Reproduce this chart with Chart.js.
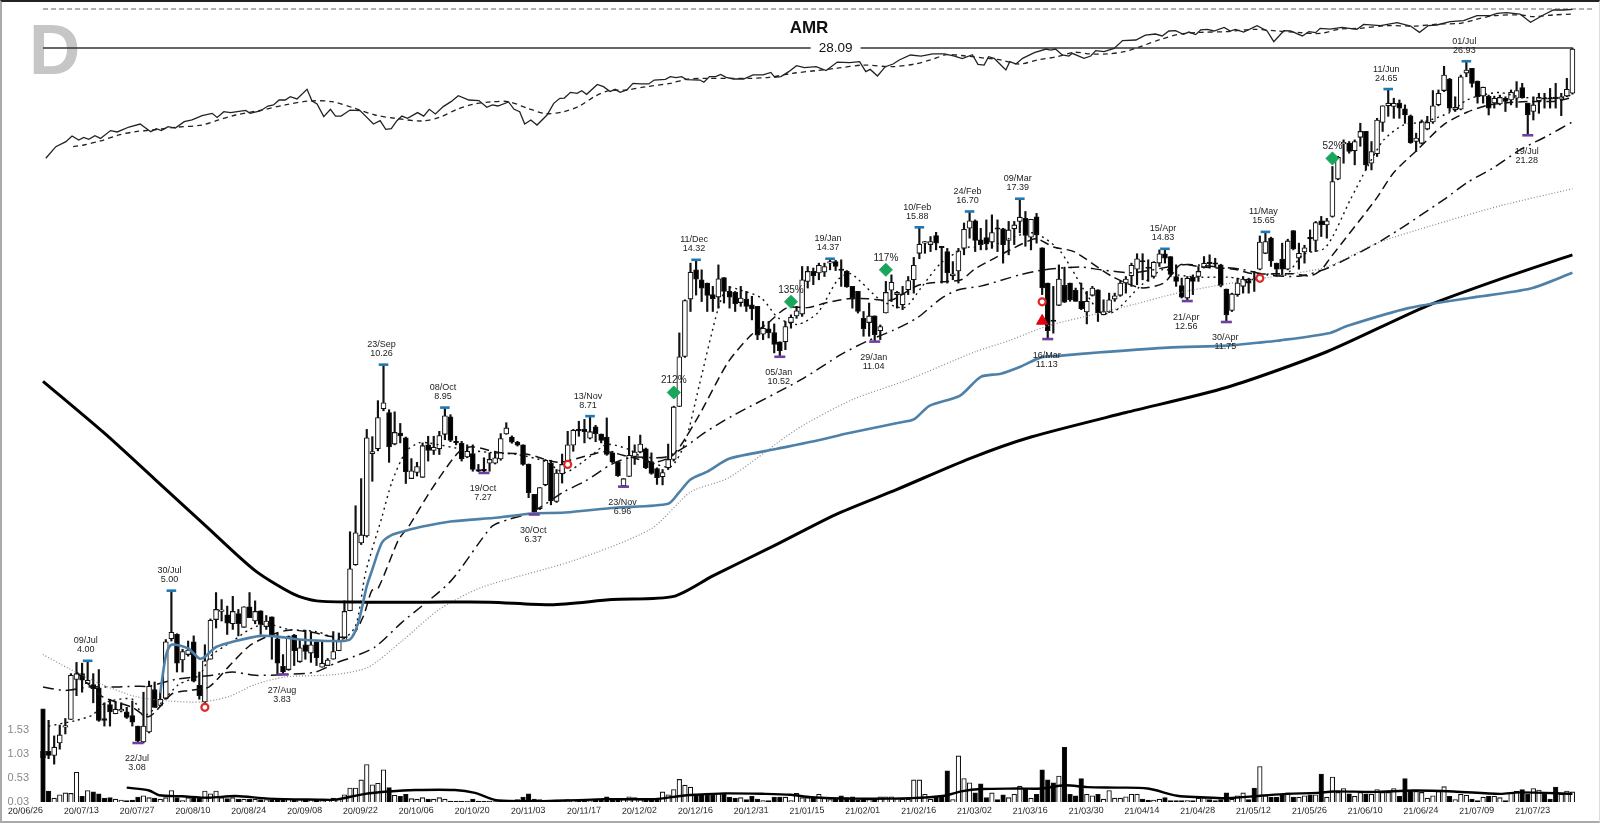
<!DOCTYPE html>
<html lang="en">
<head>
<meta charset="UTF-8">
<title>AMR</title>
<script src="https://cdn.jsdelivr.net/npm/chart.js"></script>
<style>
  html, body { margin: 0; padding: 0; background: #fff; overflow: hidden; }
  #wrap { position: relative; width: 1600px; height: 823px; }
  canvas { display: block; }
  #frame { position: absolute; inset: 0; box-sizing: border-box; pointer-events: none;
           border-top: 2px solid #222; border-left: 2px solid #aaa; border-bottom: 2px solid #aaa; border-right: 1px solid #ddd; }
</style>
</head>
<body>
<div id="wrap">
  <canvas id="chart" width="1600" height="823"></canvas>
  <div id="frame"></div>
</div>

<script>
const tickDates = ["20/06/26","20/07/13","20/07/27","20/08/10","20/08/24","20/09/08","20/09/22","20/10/06","20/10/20","20/11/03","20/11/17","20/12/02","20/12/16","20/12/31","21/01/15","21/02/01","21/02/16","21/03/02","21/03/16","21/03/30","21/04/14","21/04/28","21/05/12","21/05/26","21/06/10","21/06/24","21/07/09","21/07/23"];
const volTicks = [0.03, 0.53, 1.03, 1.53];
const lastPrice = 28.09;

const opens = [
  3.00,3.00,2.96,3.08,3.24,3.32,3.77,3.84,3.72,3.71,
  3.67,3.33,3.48,3.38,3.41,3.40,3.36,3.25,3.09,3.19,
  3.65,3.47,3.55,4.29,4.35,4.01,4.08,4.25,3.70,3.51,
  4.02,4.56,4.68,4.63,4.50,4.65,4.45,4.75,4.54,4.69,
  4.46,4.60,4.29,3.93,3.89,4.34,3.99,4.21,4.10,4.25,
  3.92,3.94,4.02,4.13,4.26,4.69,5.43,5.82,5.95,7.73,
  7.85,8.92,8.81,7.97,8.25,8.13,7.14,7.28,7.17,7.95,
  7.81,7.85,8.22,8.69,8.03,7.99,7.65,7.73,7.35,7.33,
  7.50,7.50,7.60,8.23,8.15,8.02,7.95,7.48,6.79,6.49,
  7.00,7.50,6.64,7.25,7.47,7.94,8.33,8.35,8.12,8.42,
  8.23,8.15,7.75,7.53,6.98,7.19,7.66,7.77,7.85,7.53,
  7.37,7.18,7.39,7.59,8.98,10.53,12.64,13.87,13.44,13.30,
  12.82,12.72,13.53,12.95,12.91,12.50,12.64,12.41,12.35,11.30,
  11.50,11.36,11.03,11.03,11.73,11.98,12.05,13.37,13.80,13.73,
  13.77,14.17,14.24,13.90,13.80,13.16,12.95,11.89,11.73,11.98,
  11.43,12.09,13.00,12.82,12.41,13.02,13.44,14.62,15.10,15.03,
  15.47,14.92,14.70,13.61,13.82,14.85,15.83,16.21,15.26,15.37,
  15.15,15.82,15.80,15.23,15.80,16.18,16.34,15.39,16.42,14.88,
  13.30,11.81,12.39,13.20,13.30,13.00,12.55,12.13,12.79,13.02,
  12.02,12.13,12.64,12.79,13.30,13.61,13.90,14.26,13.97,13.58,
  14.17,14.60,14.47,13.58,13.19,12.68,13.55,13.58,13.99,14.19,
  14.16,14.09,13.05,12.19,12.82,13.16,13.47,13.46,13.90,14.62,
  15.34,14.17,14.35,13.90,15.71,14.40,14.68,15.35,15.23,16.21,
  16.00,16.44,18.51,20.70,20.75,20.25,21.14,21.54,19.47,20.07,
  22.16,23.37,23.32,23.57,23.14,22.63,20.86,20.74,21.70,22.20,
  23.44,24.53,25.45,23.07,23.12,25.93,26.33,25.29,24.10,24.10,
  23.57,23.51,23.94,23.81,23.94,24.76,23.57,22.95,23.74,23.90,
  23.91,23.97,23.86,24.10,24.32
];
const highs = [
  3.00,3.31,3.15,3.26,3.33,3.84,3.98,3.97,4.00,3.84,
  3.89,3.50,3.54,3.51,3.50,3.45,3.52,3.25,3.62,3.75,
  3.74,3.62,4.28,5.00,4.36,4.15,4.26,4.33,3.86,4.21,
  4.57,4.97,4.86,4.76,4.91,4.71,4.75,4.97,4.84,4.69,
  4.62,4.60,4.37,4.08,4.33,4.35,4.28,4.41,4.39,4.25,
  4.26,4.03,4.39,4.37,4.84,6.03,6.55,7.14,8.35,8.16,
  9.15,10.26,8.89,8.83,8.51,8.15,7.61,7.52,8.00,8.17,
  8.17,8.30,8.95,8.75,8.17,8.04,7.95,7.95,7.47,7.63,
  7.75,7.79,8.24,8.53,8.18,8.04,7.95,7.48,6.79,6.94,
  7.59,7.57,7.35,7.72,8.30,8.35,8.57,8.62,8.71,8.46,
  8.23,8.66,7.79,7.53,7.14,8.17,7.95,8.20,7.87,7.75,
  7.39,7.35,7.97,8.99,11.35,12.61,14.17,14.32,13.87,13.30,
  13.16,14.09,13.53,13.16,12.95,13.16,12.95,12.75,12.35,11.77,
  11.77,11.68,11.03,11.77,12.02,12.35,14.02,14.02,13.95,14.17,
  14.17,14.37,14.30,14.32,13.84,13.16,12.95,12.15,12.48,11.98,
  11.64,13.37,13.65,12.95,13.16,13.58,14.43,15.88,15.18,15.42,
  15.63,14.95,14.85,14.24,14.85,16.10,16.70,16.26,15.83,16.26,
  16.52,16.26,15.83,16.18,16.18,17.39,16.70,16.29,16.60,14.88,
  13.30,13.16,14.09,13.99,13.30,13.09,13.30,12.95,13.16,13.02,
  12.61,12.88,12.88,13.37,13.58,14.17,14.60,14.60,14.32,14.24,
  14.78,14.83,14.47,14.09,13.51,13.58,13.65,14.02,14.47,14.55,
  14.39,14.12,13.05,12.88,13.51,13.58,13.51,13.80,15.45,15.65,
  15.39,14.17,15.10,15.29,15.71,15.10,15.00,15.75,16.18,16.44,
  16.34,19.27,19.90,20.97,20.86,20.97,22.11,21.54,20.86,22.46,
  23.37,24.65,23.94,23.81,23.44,22.70,21.42,22.34,22.60,24.53,
  24.58,26.50,25.50,24.05,25.77,26.93,26.33,25.29,24.80,24.18,
  24.10,24.18,24.05,24.58,25.24,25.10,23.57,24.05,24.32,24.32,
  24.70,25.10,24.32,25.50,28.09
];
const lows = [
  2.94,2.93,2.88,3.02,3.17,3.32,3.58,3.62,3.72,3.50,
  3.30,3.25,3.25,3.38,3.40,3.33,3.25,3.08,3.08,3.18,
  3.45,3.46,3.54,4.26,3.86,3.86,4.06,3.74,3.54,3.47,
  4.02,4.44,4.54,4.35,4.42,4.33,4.45,4.59,4.50,4.35,
  4.42,4.02,3.84,3.83,3.88,3.94,3.98,4.02,3.98,3.94,
  3.92,3.94,4.02,4.13,4.25,4.69,5.42,5.79,5.93,7.08,
  7.80,8.86,7.52,7.95,8.00,7.03,7.14,7.20,7.17,7.55,
  7.71,7.71,8.08,8.03,7.95,7.55,7.63,7.31,7.30,7.27,
  7.31,7.48,7.57,8.22,7.99,7.92,7.45,6.72,6.37,6.47,
  6.98,6.57,6.62,7.04,7.45,7.79,8.17,8.00,8.10,8.03,
  8.00,7.69,7.51,7.19,6.96,7.19,7.47,7.75,7.37,7.24,
  7.01,7.00,7.35,7.55,8.98,10.50,12.15,12.80,12.54,12.15,
  12.15,12.28,12.48,12.28,12.15,12.35,12.15,11.83,11.11,11.11,
  11.17,10.65,10.52,10.76,11.52,11.89,11.96,13.09,13.23,13.44,
  13.58,13.87,13.84,13.16,13.12,12.28,12.09,11.23,11.23,11.04,
  11.11,12.09,12.54,12.28,12.22,12.82,12.88,14.37,14.62,14.70,
  14.78,13.30,13.30,13.44,13.30,14.55,15.34,14.70,14.78,14.78,
  14.85,14.70,14.17,14.55,15.03,15.60,14.95,14.78,15.10,12.82,
  11.13,11.34,12.38,12.50,12.55,12.55,12.22,11.68,12.76,11.77,
  12.02,12.11,12.55,12.75,12.88,13.16,13.23,13.44,13.37,13.51,
  14.02,14.17,13.58,13.16,12.68,12.56,12.82,13.37,13.95,13.95,
  13.99,13.14,11.75,12.15,12.75,12.88,12.88,12.95,13.87,14.60,
  14.02,13.58,13.65,13.87,14.78,13.90,14.17,14.70,14.70,15.42,
  15.34,16.40,18.47,19.47,20.10,19.37,20.55,19.06,19.06,19.89,
  21.54,22.60,22.46,22.46,22.10,20.74,20.21,20.70,21.65,22.10,
  23.37,24.45,22.95,22.95,23.07,25.63,24.80,23.57,23.57,22.70,
  23.20,23.44,22.95,23.44,23.25,23.94,21.28,22.34,22.82,23.20,
  23.20,23.20,22.65,24.05,24.25
];
const closes = [
  2.94,2.96,3.04,3.16,3.25,3.82,3.84,3.76,3.76,3.66,
  3.31,3.31,3.40,3.43,3.43,3.34,3.29,3.10,3.25,3.69,
  3.45,3.54,4.25,4.38,3.97,4.12,4.14,3.75,3.58,4.00,
  4.55,4.71,4.70,4.51,4.68,4.50,4.75,4.59,4.68,4.49,
  4.54,4.33,3.97,3.86,4.32,4.13,4.17,4.12,4.21,4.04,
  3.97,4.01,4.12,4.27,4.68,5.36,6.01,5.97,8.13,7.78,
  8.67,9.09,7.90,8.27,8.18,7.30,7.32,7.42,7.93,7.81,
  7.89,8.19,8.72,8.06,8.00,7.60,7.79,7.35,7.31,7.32,
  7.59,7.63,8.11,8.39,8.02,7.94,7.47,6.83,6.42,6.94,
  7.57,6.65,7.27,7.47,7.95,8.33,8.31,8.29,8.29,8.24,
  8.06,7.71,7.53,7.21,7.14,7.69,7.77,7.97,7.39,7.26,
  7.16,7.28,7.59,8.97,10.52,12.58,13.77,13.47,13.09,12.79,
  12.65,13.48,12.95,12.72,12.45,12.68,12.35,12.25,11.27,11.52,
  11.36,10.94,10.73,11.58,11.93,12.18,13.44,13.80,13.61,14.07,
  14.02,14.22,14.02,13.84,13.14,12.68,12.15,11.50,11.98,11.29,
  11.58,12.91,13.33,12.91,12.85,13.41,14.07,15.05,15.14,15.18,
  15.10,14.88,13.73,13.70,14.74,15.78,16.21,15.23,15.03,15.06,
  15.62,15.78,15.03,15.75,16.00,16.40,15.47,16.29,15.50,13.10,
  11.43,11.77,13.47,12.52,12.61,12.55,12.26,12.55,13.09,12.09,
  12.15,12.61,12.77,13.30,13.47,14.07,14.37,14.22,13.93,14.21,
  14.60,14.40,13.67,13.37,12.72,13.51,13.37,13.80,14.17,14.15,
  14.12,13.20,12.02,12.85,13.30,13.47,13.30,13.42,15.15,15.18,
  14.27,13.90,13.90,15.21,14.82,14.62,14.88,15.31,16.12,16.00,
  16.21,18.37,19.84,20.80,20.21,20.86,21.54,19.37,20.21,22.34,
  23.37,23.57,23.57,23.20,22.70,20.78,21.09,22.22,22.17,23.37,
  24.32,25.77,23.20,23.25,25.63,26.19,25.10,24.05,24.80,23.20,
  23.94,24.00,23.69,24.40,24.53,23.99,22.70,23.44,24.00,23.86,
  23.86,23.91,24.05,24.63,28.00
];
const volumes = [
  1.97,.26,.11,.18,.22,.21,.65,.15,.27,.24,
  .20,.11,.12,.09,.07,.06,.07,.13,.16,.12,
  .11,.09,.12,.27,.12,.06,.12,.12,.12,.26,
  .20,.26,.12,.10,.12,.09,.09,.09,.09,.08,
  .08,.08,.08,.08,.09,.08,.08,.08,.08,.08,
  .06,.08,.11,.09,.18,.32,.32,.49,.81,.39,
  .42,.70,.33,.17,.15,.19,.10,.09,.12,.09,
  .09,.12,.09,.05,.05,.05,.05,.09,.05,.05,
  .05,.04,.06,.06,.06,.08,.13,.20,.09,.08,
  .06,.05,.05,.06,.08,.08,.08,.05,.06,.08,
  .08,.14,.08,.08,.08,.14,.12,.08,.08,.08,
  .09,.24,.18,.29,.50,.38,.34,.18,.18,.18,
  .18,.21,.19,.13,.11,.12,.08,.15,.09,.06,
  .06,.13,.13,.13,.06,.21,.12,.12,.11,.19,
  .11,.08,.11,.16,.12,.14,.07,.11,.08,.09,
  .14,.14,.14,.10,.09,.09,.49,.49,.19,.09,
  .14,.14,.68,.08,.99,.52,.43,.22,.41,.12,
  .22,.08,.18,.12,.19,.36,.30,.11,.19,.70,
  .49,.43,.57,1.17,.19,.16,.52,.19,.16,.19,
  .09,.27,.11,.11,.14,.19,.19,.09,.07,.07,
  .09,.12,.06,.06,.06,.06,.06,.11,.12,.08,
  .06,.08,.22,.09,.16,.22,.08,.32,.77,.16,
  .13,.13,.18,.22,.13,.13,.16,.18,.18,.61,
  .13,.55,.23,.31,.20,.15,.23,.20,.19,.29,
  .23,.23,.31,.15,.52,.27,.25,.23,.11,.16,
  .25,.35,.15,.08,.19,.17,.09,.06,.13,.15,
  .15,.12,.06,.22,.25,.29,.19,.31,.28,.19,
  .09,.34,.19,.26,.24
];

// moving averages, read at knots along the line (bar number, price)
const ma10Idx = [1,6,9,10,12,16,18,21,24.3,28,30,34,37,40,44,49,53.5,56,57.8,60.7,62.5,65,67.3,69,75.6,80,85,90,93.5,98,101,105,108.5,112.5,115,117.6,120.9,122.6,125,128.7,131.7,135.2,138.8,142.4,144.7,150,154.3,157.3,160.9,165.6,169,172.8,177.5,181.8,184.1,186.5,189.5,192,196.7,200.8,203.3,207.5,212.5,216,219.7,222.7,225.7,229.8,234.2,237.2,240.2,243.8,247.4,252.1,255.1,258,261,265.2,272,274];
const ma10 = [3.25,3.31,3.37,3.45,3.52,3.54,3.36,3.49,3.71,3.82,4.06,4.26,4.42,4.50,4.42,4.39,4.28,4.47,5.30,6.31,7.06,7.78,8.00,8.00,7.83,7.76,7.71,7.54,7.28,7.66,7.96,7.83,7.54,7.42,8.00,9.63,12.22,13.10,13.00,12.68,11.91,11.66,12.10,13.44,13.70,12.61,12.30,13.10,14.18,14.90,14.85,15.30,15.60,14.85,14.00,13.00,12.10,12.15,13.20,13.90,13.65,13.55,13.55,13.44,13.70,13.65,14.55,14.90,17.33,19.20,20.97,22.00,22.20,22.90,23.81,24.20,24.38,24.00,24.00,24.20];

const ma21Idx = [6,10.6,16,19,23.1,26.1,29.7,33.3,36.9,40.4,44,48.2,51.8,55.3,57.4,58.9,60.1,63.7,65.5,69.6,74.4,76.8,81.6,87,92.3,98.3,101,105.4,109.6,113,117.4,122.7,126.8,129.8,133.3,137,140.5,144.2,147.8,152,156.7,161,164.5,166.9,170.5,173.4,177,178.2,181.2,184.7,191.4,196.7,200.8,203.8,207.3,213.3,216.9,224,227,229,230.6,238.7,242,246.2,250.9,255.1,258.7,262.3,266.4,270.6,274];
const ma21 = [3.86,3.57,3.45,3.35,3.60,3.64,3.68,3.93,4.19,4.33,4.41,4.38,4.32,4.33,4.61,5.00,5.05,5.88,6.13,6.90,7.76,7.90,7.76,7.71,7.52,7.71,7.78,7.64,7.52,7.71,8.70,10.33,11.26,11.70,12.30,12.30,12.50,12.65,12.65,12.60,13.20,13.35,13.44,13.90,14.40,14.80,15.26,15.30,14.90,14.70,13.60,13.10,13.30,14.10,14.00,13.90,13.70,13.70,13.60,13.87,14.40,17.33,18.90,20.31,22.00,22.90,23.40,23.60,23.70,23.70,24.00];

const ma50Idx = [0,4,8.2,12.4,16.6,19,23.7,30.3,33.9,38,43.4,48.8,52.4,55.9,59.5,64.3,73,80.4,83.4,87.5,93.5,97.1,101.8,105.4,111.4,115,118.6,123.3,135.8,143,147.8,152.5,156.7,161,164,168,172.8,175,179.3,185.9,189.5,195.5,204.4,210.4,214.6,219.4,225.3,230.6,240,250.9,255.1,259.9,264.6,269.3,274];
const ma50 = [3.68,3.64,3.68,3.68,3.69,3.69,3.77,3.82,3.86,3.82,3.83,3.86,3.97,4.06,4.18,4.52,5.15,6.13,6.27,6.41,6.86,7.08,7.47,7.64,7.64,7.90,8.27,8.70,9.78,10.60,11.07,11.46,11.92,12.68,13.02,13.17,13.50,13.65,13.87,14.00,13.87,13.75,14.10,14.00,13.90,13.65,13.60,14.00,15.26,17.33,18.30,19.20,20.31,21.20,22.20];

const ma100Idx = [0,4.7,10.6,16.6,22.5,28.5,33.3,38,43.4,52.4,58.3,64.3,71,78.5,95,109,116,123,135,145,155,167,173,178,180.5,189.5,195.5,203,210.4,219.4,230,239,248,261,274];
const ma100 = [4.08,3.90,3.71,3.57,3.52,3.51,3.57,3.71,3.80,3.83,3.92,4.26,4.71,5.05,5.50,6.09,6.84,7.17,8.35,9.18,9.78,10.69,11.07,11.46,11.64,12.10,12.43,12.87,13.20,13.54,14.00,15.10,15.90,17.00,17.95];

const ma150Idx = [21,22,23,26,28,29,31,34.5,39,42,46,52,55,56.5,58,59,60.7,62.5,65,68,73,81.6,87.5,93.5,102.5,112,114,116,119,123,131.5,138.7,144.2,153.3,156,158.8,164.3,168,171.6,175.2,178.8,182.4,189.5,201.5,212.2,217.6,221.1,230.6,233.6,244.6,255.5,266.5,274];
const ma150 = [3.61,4.06,4.21,4.16,4.03,4.05,4.18,4.26,4.33,4.32,4.28,4.26,4.28,4.52,5.07,5.35,5.82,5.97,6.05,6.13,6.23,6.31,6.39,6.41,6.51,6.59,6.84,7.12,7.30,7.61,7.85,8.06,8.25,8.53,8.62,9.00,9.30,9.87,9.97,10.20,10.50,10.56,10.67,10.83,10.90,11.00,11.07,11.35,11.60,12.28,12.68,13.07,13.74];

const ma200Idx = [0,11,20,29,38,45,49,58,69,80,91,102,113,120,131,142,153,166,177,194,212,230,248,263,274];
const ma200 = [9.73,8.25,7.13,6.16,5.33,4.94,4.84,4.82,4.82,4.82,4.78,4.86,4.91,5.24,5.77,6.37,6.90,7.61,8.15,8.81,9.54,10.69,12.37,13.63,14.55];

// relative strength line and its average, own hidden scale
const rsIdx = [0.5,2.3,4.1,5.2,6.4,7.3,8.2,9.3,10.3,12.1,13.3,15.4,17.4,19.3,20.3,21.2,22.4,23.7,25.3,26.7,28.5,30.3,31.2,32.4,33.6,36.3,37.1,38.9,40.3,41.3,42.3,43.4,44.3,45.5,47.3,48.2,49.1,50.3,51.5,52.4,53.4,55,56.8,59.2,60.4,61.4,62.4,63.4,64.3,65.3,67.1,68.2,69.2,70.3,71.7,73.1,74.4,76.3,78.1,79.5,80.5,81.5,83.4,84.4,85.4,86.3,87.4,88.5,90.3,91.5,92.6,93.4,94.5,95.7,96.5,97.4,99.3,100.4,101.6,102.5,103.4,104.6,105.7,107.1,108.5,109.5,111.5,112.4,113.4,114.4,115.3,117.7,118.4,119.4,120.5,121.4,122.4,123.7,125.5,127.2,129,130.4,131.1,132.2,133.6,135,136.4,138.5,140.3,142.3,144.5,146.3,147.4,148.2,149.5,150.9,152.3,153.4,155.4,157.3,159.4,161.5,163.3,164.7,166.5,167.5,168.6,169.4,170.4,171.6,172.5,173.2,174.3,175.5,177.6,179.7,180.5,181.4,182.6,183.8,184.4,186.5,187.7,188.6,190.1,191.9,193.4,195.8,197.5,199.3,200.5,201.7,202.9,204.3,205.3,206.5,207.4,208.6,209.8,211.6,212.7,213.6,215.1,217.5,219.3,220.5,222.3,223.5,225.6,226.8,228,228.8,230.6,232.7,235.4,236.6,239.6,242.6,245,246.6,248.2,249.7,252.1,254.5,256.9,259.3,260.5,262.2,264.6,266.5,268.8,270.6,272.4,274];
const rsLine = [1.2,8.9,12.2,16,13.3,15.1,13.8,16.2,14.4,19.6,18.7,22,24,18.9,20.9,19.6,22.2,21.3,25.6,26.7,29.6,31.1,28.4,32.2,31.6,33.1,31.1,32.7,36,36.7,40,40,42.2,40.7,47.1,39.3,37.3,28.9,33.8,29.3,29.3,33.3,32.9,24,26.2,20.4,20.9,26.2,29.3,27.8,31.6,29.3,33.8,30.7,35.6,38.9,42.9,40,39.6,35.1,36.7,36,38.7,33.8,32.2,24,26.7,23.3,30,37.8,41.1,41.3,45.1,44.4,46.2,43.8,50.4,48.9,45.6,47.1,45.1,46.7,51.1,50.7,50.7,53.3,53.8,55.6,54.9,55.6,53.6,53.3,51.8,55.6,55.6,57.1,55.1,54,54,56.7,56.7,58.4,55.1,55.6,58.9,62.9,61.6,62.2,59.6,65.3,64.9,65.6,58.9,60.4,56,62.2,64,66.7,70,69.3,70.7,70.7,69.3,67.6,70.2,63.8,63.3,68.9,67.8,63.3,60,65.6,64,67.8,71.6,74,73.3,74,70,69.3,71.1,67.8,69.3,72.9,72.2,74.4,79.6,80,83.3,84,82.7,86,86.2,83.8,85.3,83.6,86.7,87.1,86,88.4,86,87.1,85.3,89.6,86,78.9,86.2,86,82.7,85.6,84.9,87.8,87.3,88.4,87.1,90.4,89.6,91.6,89.3,85.1,89.6,90,92.2,92.9,96.2,96.2,97.8,98.2,97.3,91.8,96.7,100,100,100.4];
const rsAvgIdx = [5.4,7.3,10.3,13.6,16.6,19.6,23.7,28.5,31.5,34.5,39.2,43.4,47.6,51.8,55.9,59.5,63.1,67.8,71,74.2,77,80.2,83.4,86.9,90.1,93.3,96.1,99,101.4,104.6,108.1,112.4,115.2,118.7,123,126.5,130.1,134.3,138.5,142.1,147,152,156.2,159,161.9,165.4,169,171.6,174.9,178.2,181.7,184.7,187.7,190.7,193.7,196.6,200.2,203.8,207.4,212.1,216.9,221.1,225.3,228.8,232.4,236,240.8,245.6,250.3,253.9,256.3,259.9,264.6,267,270.6,274];
const rsAvg = [8.9,10,12.7,16.7,18.9,20,21.8,23.3,26.7,30,33.3,36.7,39.3,38.9,34.4,30,27.8,26,28.4,33.8,37.1,38.7,38.9,34.4,30.9,32.2,36,42.7,46.2,46.7,48.9,51.1,53.8,54.4,54.4,54.4,55.1,57.8,59.6,61.1,63.3,62.2,64,66.7,70.2,69.3,67.8,66.7,64,66.7,68.9,71.8,70.7,70.7,72.2,75.6,80.4,84,85.1,85.6,87.1,86,84.9,84.4,87.3,87.8,89.6,89.3,90.7,91.1,93.3,96.2,96.7,95.6,96.7,97.3];
const rsTopLevel = 100.67;

const volAvgIdx = [15,19,20.8,24.9,29.7,34.5,40.4,49.4,52.4,57.7,61.9,66.7,73.8,77.4,81.6,93.5,100.7,109.6,113.8,116.8,122.1,129.3,134,137.6,144.8,155.5,161.5,164.5,168,174.6,178.8,183,187.1,192.5,197.9,203.2,207.4,212.2,218.1,222.9,228.3,231.2,238.4,245.6,252.7,261,264.6,274];
const volAvg = [.33,.27,.17,.15,.12,.155,.10,.08,.08,.20,.25,.28,.28,.22,.06,.06,.09,.09,.15,.18,.21,.20,.18,.13,.10,.11,.16,.25,.30,.31,.31,.38,.34,.33,.31,.16,.13,.11,.16,.20,.22,.25,.24,.27,.25,.20,.23,.20];

// labelled swing highs and lows
const highIdx = [8,23,61,72,98,117,141,157,166,175,201,219,241,255];
const highDates = ["09/Jul","30/Jul","23/Sep","08/Oct","13/Nov","11/Dec","19/Jan","10/Feb","24/Feb","09/Mar","15/Apr","11/May","11/Jun","01/Jul"];
const highVals = [4.00,5.00,10.26,8.95,8.71,14.32,14.37,15.88,16.70,17.39,14.83,15.65,24.65,26.93];
const lowIdx = [17,43,79,88,104,132,149,180,205,212,266];
const lowDates = ["22/Jul","27/Aug","19/Oct","30/Oct","23/Nov","05/Jan","29/Jan","16/Mar","21/Apr","30/Apr","19/Jul"];
const lowVals = [3.08,3.83,7.27,6.37,6.96,10.52,11.04,11.13,12.56,11.75,21.28];

const gainIdx = [113,134,151,231];
const gainVals = [9.39,12.53,13.87,19.77];
const gainLabels = ["212%","135%","117%","52%"];
const ringIdx = [29,94,179,218];
const ringVals = [3.45,7.47,12.53,13.50];
const triIdx = [179];
const triVals = [11.79];

const pairs = (xs, ys) => xs.map((x, i) => ({ x: x, y: ys[i] }));
const isUp = opens.map((o, i) => closes[i] >= o);

function maLine(label, xs, ys, color, width, dash, order) {
    return {
        type: "line", label: label, data: pairs(xs, ys), yAxisID: "y", xAxisID: "x",
        borderColor: color, borderWidth: width, borderDash: dash, pointRadius: 0,
        tension: 0.25, fill: false, order: order
    };
}
function markers(label, xs, ys, style, radius, fill, stroke, borderW, rotation) {
    return {
        type: "line", label: label, data: pairs(xs, ys), yAxisID: "y", xAxisID: "x", showLine: false,
        pointStyle: style, pointRadius: radius, pointBackgroundColor: fill, pointBorderColor: stroke,
        pointBorderWidth: borderW, pointRotation: rotation || 0, order: 1
    };
}

// text that sits on the marks: swing labels, gain labels, title, last price, period letter
const chartText = {
    id: "chartText",
    beforeDatasetsDraw(chart) {
        const c = chart.ctx;
        c.save();
        c.fillStyle = "#c6c6c6";
        c.font = "bold 71px 'Liberation Sans'";
        c.textAlign = "left";
        c.textBaseline = "alphabetic";
        c.fillText("D", 29, 74);
        c.restore();
    },
    afterDatasetsDraw(chart) {
        const c = chart.ctx, xs = chart.scales.x, ys = chart.scales.y;
        c.save();
        c.textAlign = "center";
        c.textBaseline = "middle";
        c.fillStyle = "#222";
        c.font = "9px 'Liberation Sans'";
        highIdx.forEach((idx, k) => {
            const px = xs.getPixelForValue(idx), py = ys.getPixelForValue(highVals[k]);
            c.fillText(highDates[k], px - 2, py - 20);
            c.fillText(highVals[k].toFixed(2), px - 2, py - 11);
        });
        lowIdx.forEach((idx, k) => {
            const px = xs.getPixelForValue(idx), py = ys.getPixelForValue(lowVals[k]);
            c.fillText(lowDates[k], px - 1, py + 16);
            c.fillText(lowVals[k].toFixed(2), px - 1, py + 25);
        });
        c.font = "10px 'Liberation Sans'";
        gainIdx.forEach((idx, k) => {
            c.fillText(gainLabels[k], xs.getPixelForValue(idx), ys.getPixelForValue(gainVals[k]) - 12);
        });

        const lx = xs.getPixelForValue(142), ly = ys.getPixelForValue(lastPrice);
        c.fillStyle = "#fff";
        c.fillRect(lx - 25, ly - 8, 50, 16);
        c.fillStyle = "#111";
        c.font = "13.5px 'Liberation Sans'";
        c.fillText(lastPrice.toFixed(2), lx, ly);

        c.font = "bold 17px 'Liberation Sans'";
        c.fillText("AMR", 809, 28);
        c.restore();
    }
};

Chart.defaults.font.family = "'Liberation Sans', Arial, sans-serif";

new Chart(document.getElementById("chart"), {
    type: "bar",
    data: {
        datasets: [
            {
                label: "Range", data: pairs(opens.map((_, i) => i), lows.map((l, i) => [l, highs[i]])),
                yAxisID: "y", xAxisID: "x", grouped: false, barThickness: 1.5,
                backgroundColor: "#111", borderWidth: 0, minBarLength: 1, order: 10
            },
            {
                label: "Body", data: pairs(opens.map((_, i) => i), opens.map((o, i) => [o, closes[i]])),
                yAxisID: "y", xAxisID: "x", grouped: false, barThickness: 5,
                backgroundColor: isUp.map(u => u ? "#fff" : "#000"), borderColor: "#111",
                borderWidth: 1.1, borderSkipped: false, minBarLength: 1.5, order: 9
            },
            {
                label: "Volume", data: pairs(volumes.map((_, i) => i), volumes),
                yAxisID: "yVol", xAxisID: "x", grouped: false, barThickness: 4.6,
                backgroundColor: isUp.map(u => u ? "#fff" : "#000"), borderColor: "#111",
                borderWidth: 1.1, borderSkipped: "bottom", order: 8
            },
            {
                type: "line", label: "Volume average", data: pairs(volAvgIdx, volAvg), yAxisID: "yVol", xAxisID: "x",
                borderColor: "#000", borderWidth: 2.4, pointRadius: 0, tension: 0.3, order: 5
            },
            {
                type: "line", label: "RS", data: pairs(rsIdx, rsLine), yAxisID: "yRs", xAxisID: "x",
                borderColor: "#222", borderWidth: 1.3, pointRadius: 0, tension: 0, order: 6
            },
            {
                type: "line", label: "RS average", data: pairs(rsAvgIdx, rsAvg), yAxisID: "yRs", xAxisID: "x",
                borderColor: "#222", borderWidth: 1.3, borderDash: [5, 4], pointRadius: 0, tension: 0.3, order: 6
            },
            {
                type: "line", label: "RS top", data: pairs([0, 278], [rsTopLevel, rsTopLevel]), yAxisID: "yRs", xAxisID: "x",
                borderColor: "#666", borderWidth: 1.2, borderDash: [5, 3], pointRadius: 0, order: 6
            },
            {
                type: "line", label: "Last", data: pairs([0, 274], [lastPrice, lastPrice]), yAxisID: "y", xAxisID: "x",
                borderColor: "#333", borderWidth: 1.6, pointRadius: 0, order: 7
            },
            maLine("MA10", ma10Idx, ma10, "#111", 1.4, [2, 4], 4),
            maLine("MA21", ma21Idx, ma21, "#111", 1.5, [9, 5], 4),
            maLine("MA50", ma50Idx, ma50, "#111", 1.5, [11, 5, 2, 5], 4),
            maLine("MA100", ma100Idx, ma100, "#888", 1.2, [1, 2], 4),
            maLine("MA150", ma150Idx, ma150, "#4f81a8", 2.6, [], 3),
            maLine("MA200", ma200Idx, ma200, "#000", 3, [], 3),
            markers("Highs", highIdx, highVals, "line", 4.8, "#1f77b4", "#1f77b4", 2.6),
            markers("Lows", lowIdx, lowVals, "line", 5.5, "#6f3fa0", "#6f3fa0", 2.6),
            markers("Gains", gainIdx, gainVals, "rectRot", 6.5, "#19a55a", "#19a55a", 1),
            markers("Rings", ringIdx, ringVals, "circle", 3.5, "#fff", "#e02828", 2.2),
            markers("Triangle", triIdx, triVals, "triangle", 6.5, "#e3000f", "#e3000f", 1)
        ]
    },
    options: {
        responsive: false,
        animation: false,
        layout: { padding: 0, autoPadding: false },
        plugins: { legend: { display: false }, title: { display: false }, tooltip: { enabled: false } },
        scales: {
            x: {
                type: "linear", offset: false, bounds: "data",
                min: -2.33, max: 278.94,
                grid: { display: false, drawTicks: false }, border: { display: false },
                afterBuildTicks: s => { s.ticks = tickDates.map((d, k) => ({ value: k * 10 })); },
                afterFit: s => { s.height = 21; s.paddingLeft = 0; s.paddingRight = 0; },
                ticks: {
                    autoSkip: false, padding: 3,
                    minRotation: 2, maxRotation: 2,
                    color: "#222", font: { size: 9 },
                    callback: v => tickDates[v / 10]
                }
            },
            y: { type: "logarithmic", display: false, min: 2.553, max: 32.72 },
            yRs: { type: "linear", display: false, min: -428, max: 106.67 },
            yVol: {
                type: "linear", position: "left", min: 0.03, max: 16.74,
                grid: { display: false, drawTicks: false }, border: { display: false },
                afterFit: s => { s.width = 30; s.paddingTop = 0; s.paddingBottom = 0; },
                afterBuildTicks: s => { s.ticks = volTicks.map(v => ({ value: v })); },
                ticks: {
                    autoSkip: false, padding: 1, color: "#888", font: { size: 11 },
                    callback: v => v.toFixed(2)
                }
            }
        }
    },
    plugins: [chartText]
});
</script>
</body>
</html>
